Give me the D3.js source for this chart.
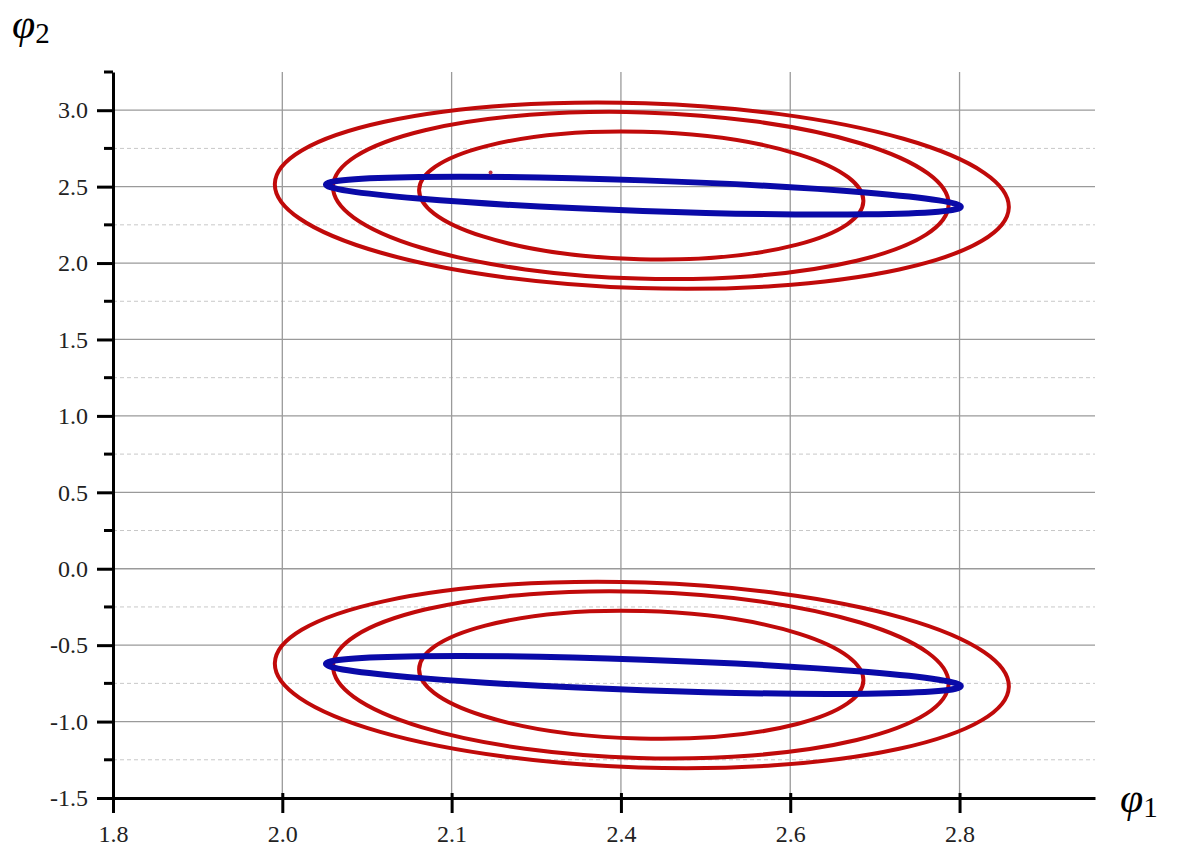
<!DOCTYPE html>
<html>
<head>
<meta charset="utf-8">
<script src="https://cdn.jsdelivr.net/npm/d3@7"></script>
<style>
  body { margin: 0; background: #fff; }
  .tick text { font-family: "Liberation Serif", serif; font-size: 24px; }
</style>
</head>
<body>
<div id="chart-area"></div>
<script>
// tick values and the labels printed under them
var xTicks = [1.8, 2.0, 2.2, 2.4, 2.6, 2.8];
var xTickLabels = ["1.8", "2.0", "2.1", "2.4", "2.6", "2.8"];
var yTicks = [3.0, 2.5, 2.0, 1.5, 1.0, 0.5, 0.0, -0.5, -1.0, -1.5];
var yMinorTicks = [3.25, 2.75, 2.25, 1.75, 1.25, 0.75, 0.25, -0.25, -0.75, -1.25];

// closed curves:
// centre (phi1, phi2), half width in phi1, half height in phi2,
// and how much lower (in phi2) the right end sits than the left end
var curveNames = ["blue top", "red inner top", "red mid top", "red outer top",
  "blue bottom", "red inner bottom", "red mid bottom", "red outer bottom"];
var curveColor = ["blue", "red", "red", "red", "blue", "red", "red", "red"];
var centerPhi1 = [2.4265, 2.424, 2.4235, 2.4247, 2.4265, 2.424, 2.4235, 2.4247];
var centerPhi2 = [2.441, 2.442, 2.442, 2.441, -0.695, -0.694, -0.694, -0.695];
var halfPhi1 = [0.375, 0.2624, 0.3636, 0.4335, 0.375, 0.2624, 0.3636, 0.4335];
var halfPhi2 = [0.100, 0.417, 0.544, 0.605, 0.100, 0.417, 0.544, 0.605];
var dropPhi2 = [0.146, 0.076, 0.120, 0.157, 0.146, 0.076, 0.120, 0.157];

var redDots = [[2.246, 2.593]];

var curves = curveNames.map((name, i) => ({
  name: name,
  color: curveColor[i],
  cx: centerPhi1[i], cy: centerPhi2[i],
  hx: halfPhi1[i], hy: halfPhi2[i],
  drop: dropPhi2[i]
}));

var svg = d3.select("#chart-area")
  .append("svg")
  .attr("width", 1177)
  .attr("height", 847);

var x = d3.scaleLinear().domain([1.8, 2.96]).range([113, 1095]);
var y = d3.scaleLinear().domain([-1.5, 3.25]).range([798, 72]);

// grid
svg.selectAll(".gminor")
  .data(yMinorTicks.filter(d => d < 3.2))
  .enter().append("line")
  .attr("x1", x(1.8)).attr("x2", x(2.96))
  .attr("y1", d => y(d)).attr("y2", d => y(d))
  .attr("stroke", "#c8c8c8").attr("stroke-width", 1)
  .attr("stroke-dasharray", "4,3");

svg.selectAll(".gy")
  .data(yTicks.filter(d => d > -1.5))
  .enter().append("line")
  .attr("x1", x(1.8)).attr("x2", x(2.96))
  .attr("y1", d => y(d)).attr("y2", d => y(d))
  .attr("stroke", "#9a9a9a").attr("stroke-width", 1.3);

svg.selectAll(".gx")
  .data(xTicks.slice(1))
  .enter().append("line")
  .attr("x1", d => x(d)).attr("x2", d => x(d))
  .attr("y1", y(3.25)).attr("y2", y(-1.5))
  .attr("stroke", "#9a9a9a").attr("stroke-width", 1.3);

// curves: red first, blue on top
function tipPoints(d) {
  return [
    [x(d.cx - d.hx), y(d.cy + d.drop / 2)],
    [x(d.cx + d.hx), y(d.cy - d.drop / 2)]
  ];
}

var order = curves.filter(d => d.color == "red").concat(curves.filter(d => d.color == "blue"));

svg.selectAll(".curve")
  .data(order)
  .enter().append("ellipse")
  .each(function(d) {
    var p = tipPoints(d);
    var cx = (p[0][0] + p[1][0]) / 2, cy = (p[0][1] + p[1][1]) / 2;
    var dx = p[1][0] - p[0][0], dy = p[1][1] - p[0][1];
    var ang = Math.atan2(dy, dx) * 180 / Math.PI;
    d3.select(this)
      .attr("cx", cx).attr("cy", cy)
      .attr("rx", Math.hypot(dx, dy) / 2)
      .attr("ry", y(d.cy - d.hy) - y(d.cy))
      .attr("transform", "rotate(" + ang + "," + cx + "," + cy + ")");
  })
  .attr("fill", "none")
  .attr("stroke", d => d.color == "red" ? "#c00a0a" : "#0a0aa8")
  .attr("stroke-width", d => d.color == "red" ? 4 : 6);

svg.selectAll(".dot")
  .data(redDots)
  .enter().append("circle")
  .attr("cx", d => x(d[0]))
  .attr("cy", d => y(d[1]))
  .attr("r", 2)
  .attr("fill", "#c03040");

// axes
var xAxis = d3.axisBottom(x)
  .tickValues(xTicks)
  .tickFormat((d, i) => xTickLabels[i])
  .tickSize(15)
  .tickPadding(12)
  .tickSizeOuter(0);

var gx = svg.append("g")
  .attr("transform", "translate(0," + y(-1.5) + ")")
  .call(xAxis);
gx.select(".domain").attr("stroke-width", 3);
gx.selectAll(".tick line").attr("stroke-width", 3).attr("y1", -5);
gx.selectAll(".tick text").attr("fill", "#222");

var yAxis = d3.axisLeft(y)
  .tickValues(yTicks)
  .tickFormat(d => d3.format(".1f")(d).replace("−", "-"))
  .tickSize(16)
  .tickPadding(9)
  .tickSizeOuter(0);

var gy = svg.append("g")
  .attr("transform", "translate(" + x(1.8) + ",0)")
  .call(yAxis);
gy.select(".domain").attr("stroke-width", 3);
gy.selectAll(".tick line").attr("stroke-width", 3);
gy.selectAll(".tick text").attr("fill", "#222");

gy.selectAll(".minor")
  .data(yMinorTicks)
  .enter().append("line")
  .attr("x1", -9).attr("x2", 0)
  .attr("y1", d => y(d)).attr("y2", d => y(d))
  .attr("stroke", "#000").attr("stroke-width", 3);

// axis titles
var t2 = svg.append("text")
  .attr("x", 12).attr("y", 38)
  .style("font-size", "42px")
  .style("font-family", "'Liberation Serif', serif");
t2.append("tspan").attr("font-style", "italic").text("φ");
t2.append("tspan").style("font-size", "29px").attr("dy", 5).text("2");

var t1 = svg.append("text")
  .attr("x", 1120).attr("y", 812)
  .style("font-size", "42px")
  .style("font-family", "'Liberation Serif', serif");
t1.append("tspan").attr("font-style", "italic").text("φ");
t1.append("tspan").style("font-size", "29px").attr("dy", 5).text("1");
</script>
</body>
</html>
